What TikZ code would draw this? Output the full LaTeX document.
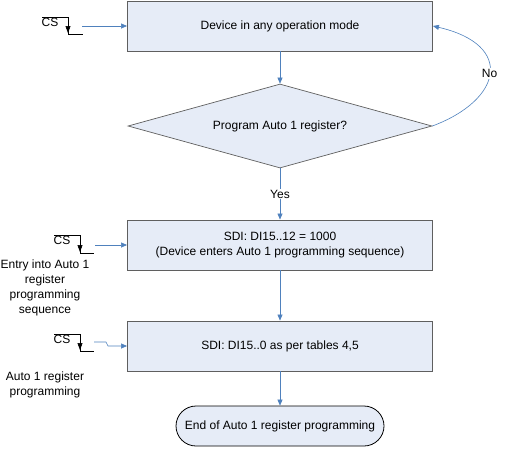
\documentclass[tikz,border=0pt]{standalone}
\usepackage{fontspec}
\setmainfont{Liberation Sans}
\usetikzlibrary{shapes.geometric,shapes.misc,arrows.meta}
\definecolor{boxfill}{HTML}{E6ECF7}
\definecolor{boxline}{HTML}{5F5F5F}
\definecolor{flow}{HTML}{4F81BD}
\tikzset{
  every node/.style={font=\fontsize{12}{15}\selectfont},
  stepbox/.style={draw=boxline, fill=boxfill, line width=0.9pt, minimum width=305pt, minimum height=50pt, inner sep=0pt, align=center},
  askbox/.style={diamond, draw=boxline, fill=boxfill, line width=0.7pt, aspect=3.62, minimum width=304pt, minimum height=84pt, inner sep=0pt},
  endbox/.style={rounded rectangle, draw=black, fill=boxfill, line width=0.8pt, minimum width=208pt, minimum height=40pt, inner sep=0pt},
  flowline/.style={draw=flow, line width=0.6pt, -{Triangle[length=6pt,width=5pt]}},
  wave/.style={draw=black, line width=0.6pt},
}
\begin{document}
\begin{tikzpicture}[x=1pt, y=-1pt]
\useasboundingbox (0,0) rectangle (506,448);
% flow boxes
\node[stepbox] (box0) at (280,26){Device in any operation mode};
\node[askbox] (ask0) at (280,126){Program Auto 1 register?};
\node[stepbox] (box1) at (280,245){SDI: DI15..12 = 1000\\(Device enters Auto 1 programming sequence)};
\node[stepbox] (box2) at (280,346){SDI: DI15..0 as per tables 4,5};
\node[endbox] (end0) at (280,426){End of Auto 1 register programming};
\draw[flowline] (box0) -- (ask0);
\draw[flowline] (ask0) -- node[fill=white, inner sep=1pt]{Yes} (box1);
\draw[flowline] (box1) -- (box2);
\draw[flowline] (box2) -- (end0);
\draw[flowline] (ask0.east) .. controls (502,100) and (515,45) .. node[fill=white, inner sep=1pt]{No} (box0.east);
% chip select waveforms
\node (cs0) at (50,22){CS};
\draw[wave] (42,17) -- (68,17) -- (68,34) -- (83,34);
\draw[wave, -{Triangle[length=7pt,width=5pt]}] (68,17) -- (68,33);
\coordinate (cs0end) at (82,26);
\draw[flowline] (cs0end) -- (box0.west);
\node (cs1) at (62,240){CS};
\draw[wave] (54,235) -- (80,235) -- (80,253) -- (94,253);
\draw[wave, -{Triangle[length=7pt,width=5pt]}] (80,235) -- (80,252);
\coordinate (cs1end) at (95,245);
\draw[flowline] (cs1end) -- (box1.west);
\node (cs2) at (62,339){CS};
\draw[wave] (54,334) -- (80,334) -- (80,351) -- (94,351);
\draw[wave, -{Triangle[length=7pt,width=5pt]}] (80,334) -- (80,350);
\coordinate (cs2end) at (94,342);
\draw[flowline] (cs2end) -- ++(12,0) -- ++(2,4) -- (box2.west);
% side notes
\node[align=center] (note0) at (45,288){Entry into Auto 1\\register\\programming\\sequence};
\node[align=center] (note1) at (45,385){Auto 1 register\\programming};
\end{tikzpicture}
\end{document}
